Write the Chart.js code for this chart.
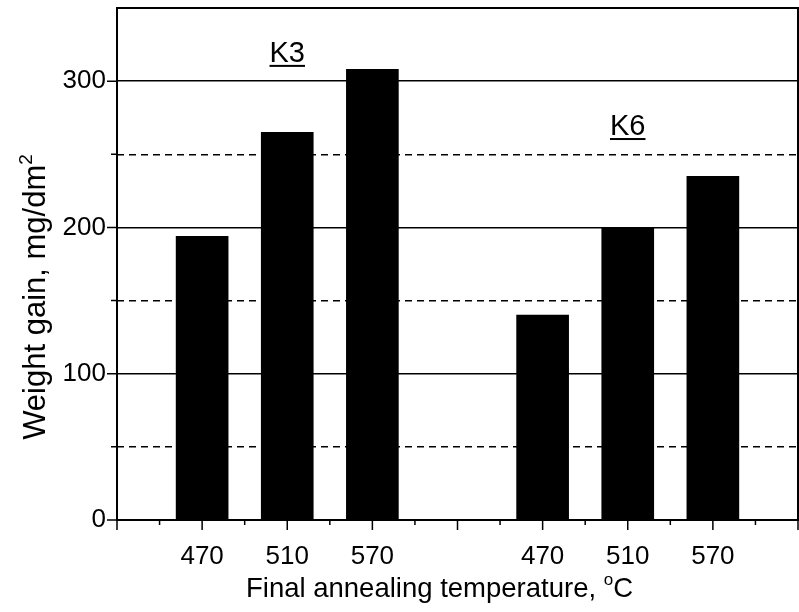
<!DOCTYPE html>
<html>
<head>
<meta charset="utf-8">
<script src="https://cdn.jsdelivr.net/npm/chart.js@4.4.0/dist/chart.umd.min.js"></script>
<style>
  html, body { margin: 0; padding: 0; background: #fff; }
  #wrap { width: 799px; height: 612px; }
</style>
</head>
<body>
<div id="wrap"><canvas id="chart"></canvas></div>
<script>
const temperatures = ['470', '510', '570'];
const k3Gain = [194, 265, 308];
const k6Gain = [140, 200, 235];
const groupNames = ['K3', 'K6'];
const groupSlot = [2, 6];          // slot each group name sits above
const groupLevel = [320, 270];     // y value of each group name
const yMax = 350;

// 9 slots on the x axis: gap, K3 x3, gap, K6 x3, gap
const slots = ['', ...temperatures, '', ...temperatures, ''];
const k3Data = [null, ...k3Gain, null, null, null, null, null];
const k6Data = [null, null, null, null, null, ...k6Gain, null];

const FONT = "'Liberation Sans', Arial, sans-serif";

// text with superscript parts, centred on cx, baseline at by
function drawRich(ctx, parts, size, cx, by) {
  const widths = parts.map((p) => {
    ctx.font = `${p.sup ? Math.round(size * 0.6) : size}px ${FONT}`;
    return ctx.measureText(p.t).width;
  });
  let px = cx - widths.reduce((s, w) => s + w, 0) / 2;
  parts.forEach((p, i) => {
    ctx.font = `${p.sup ? Math.round(size * 0.6) : size}px ${FONT}`;
    ctx.fillText(p.t, px, p.sup ? by - size * 0.42 : by);
    px += widths[i];
  });
}

const decorations = {
  id: 'decorations',
  afterDraw(chart) {
    const { ctx, chartArea: a, scales: { x, y } } = chart;
    ctx.save();
    ctx.strokeStyle = '#000';
    ctx.fillStyle = '#000';

    ctx.lineWidth = 2;
    ctx.strokeRect(a.left, a.top, a.right - a.left, a.bottom - a.top);

    // outward ticks, major and minor
    ctx.lineWidth = 1.5;
    ctx.beginPath();
    for (let i = 0; i < slots.length; i++) {
      const px = x.getPixelForTick(i);
      ctx.moveTo(px, a.bottom); ctx.lineTo(px, a.bottom + 10);
      if (i < slots.length - 1) {
        const mid = (px + x.getPixelForTick(i + 1)) / 2;
        ctx.moveTo(mid, a.bottom); ctx.lineTo(mid, a.bottom + 5);
      }
    }
    y.ticks.forEach((t) => {
      if (t.value >= yMax) return;
      const py = y.getPixelForValue(t.value);
      const len = t.value % 100 === 0 ? 10 : 6;
      ctx.moveTo(a.left - len, py); ctx.lineTo(a.left, py);
    });
    ctx.stroke();

    // group names, underlined
    ctx.textAlign = 'left';
    ctx.textBaseline = 'alphabetic';
    ctx.font = `29px ${FONT}`;
    groupNames.forEach((name, i) => {
      const w = ctx.measureText(name).width;
      const cx = x.getPixelForTick(groupSlot[i]);
      const by = y.getPixelForValue(groupLevel[i]) + 10;
      ctx.fillText(name, cx - w / 2, by);
      ctx.fillRect(cx - w / 2, by + 3, w, 2);
    });

    // axis titles
    drawRich(ctx, [{ t: 'Final annealing temperature, ' }, { t: 'o', sup: true }, { t: 'C' }],
      27.5, (a.left + a.right) / 2 - 18, a.bottom + 77);
    ctx.translate(a.left - 72, (a.top + a.bottom) / 2 + 33);
    ctx.rotate(-Math.PI / 2);
    drawRich(ctx, [{ t: 'Weight gain, mg/dm' }, { t: '2', sup: true }], 31, 0, 0);
    ctx.restore();
  }
};

const noPad = (s) => { s.paddingTop = 0; s.paddingBottom = 0; s.paddingLeft = 0; s.paddingRight = 0; };

new Chart(document.getElementById('chart'), {
  type: 'bar',
  data: {
    labels: slots,
    datasets: [
      { label: 'K3', data: k3Data, backgroundColor: '#000', borderWidth: 0 },
      { label: 'K6', data: k6Data, backgroundColor: '#000', borderWidth: 0 },
    ],
  },
  options: {
    responsive: true,
    maintainAspectRatio: false,
    animation: false,
    layout: { padding: { top: 8, right: 1, left: 0, bottom: 0 } },
    datasets: { bar: { grouped: false, barThickness: 52 } },
    plugins: { legend: { display: false }, tooltip: { enabled: false } },
    scales: {
      x: {
        offset: false,
        grid: { display: false },
        border: { display: false },
        ticks: { color: '#000', font: { family: FONT, size: 26 }, padding: 13, maxRotation: 0, autoSkip: false },
        afterFit: (s) => { s.height = 92; noPad(s); },
      },
      y: {
        min: 0, max: yMax,
        ticks: {
          stepSize: 50, color: '#000', padding: 11,
          font: { family: FONT, size: 26 },
          callback: (v) => (v % 100 === 0 && v < yMax ? v : ''),
        },
        grid: {
          drawTicks: false, lineWidth: 1.5,
          color: (c) => (c.tick && c.tick.value % 100 === 0 && c.tick.value > 0 && c.tick.value < yMax ? '#000' : 'rgba(0,0,0,0)'),
        },
        border: { display: false },
        afterFit: (s) => { s.width = 117; noPad(s); },
      },
      yMinor: {
        position: 'left',
        min: 0, max: yMax,
        ticks: { stepSize: 50, display: false },
        grid: {
          drawTicks: false, lineWidth: 1.5,
          color: (c) => (c.tick && c.tick.value % 100 === 50 ? '#000' : 'rgba(0,0,0,0)'),
        },
        border: { display: false, dash: [7, 5] },
        afterFit: (s) => { s.width = 0; noPad(s); },
      },
    },
  },
  plugins: [decorations],
});
</script>
</body>
</html>
